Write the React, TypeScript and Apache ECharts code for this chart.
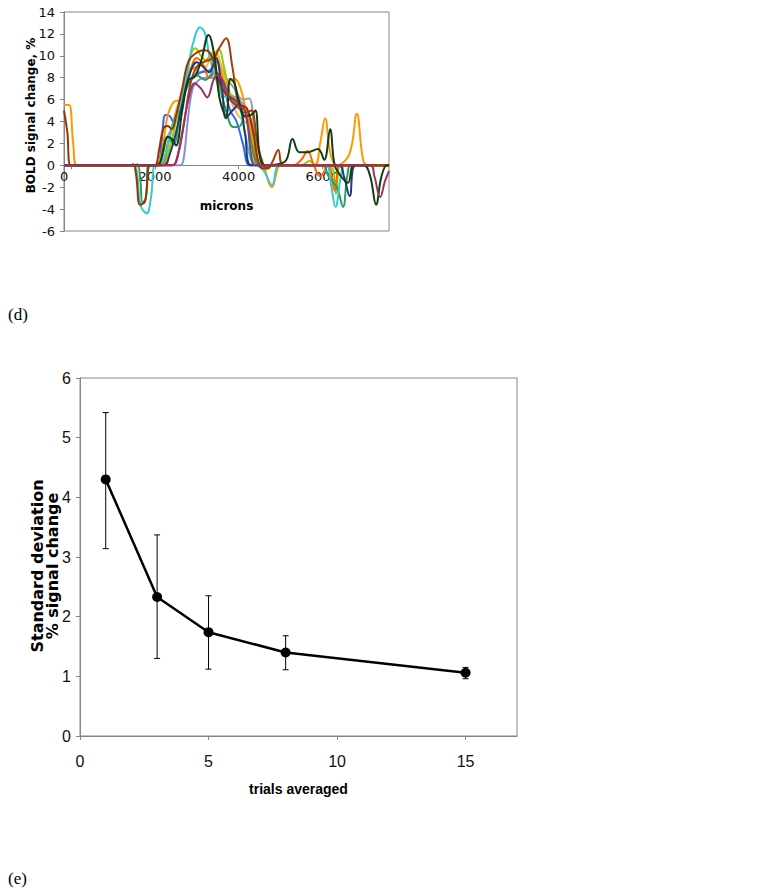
import React, { useEffect, useRef } from "react";
import * as echarts from "echarts";

// ---------- Panel (d): BOLD signal change vs microns ----------
const micronTicks = [0, 2000, 4000, 6000];
const boldMin = -6;
const boldMax = 14;

const orangeCurve = [[-180,5.5],[-60,5.5],[40,2],[130,0],[400,0],[2000,0],[2150,1],[2300,4.5],[2450,5.8],[2600,6],[2800,8.5],[3000,9],[3200,9.5],[3400,10.3],[3550,9],[3700,7.5],[3900,7.9],[4050,7],[4200,4.5],[4400,2],[4600,0],[4800,-2],[5000,0],[5200,0],[5800,0],[5950,2],[6070,4.3],[6200,1],[6350,0],[6650,1],[6830,4.7],[6980,0.5],[7100,0],[7600,0]];
const brownACurve = [[-180,5],[-100,3],[-20,0],[300,0],[1400,0],[1480,0.1],[1550,-1],[1640,-3.6],[1760,-3.3],[1880,0],[2000,0],[2100,1.5],[2200,3.4],[2300,3.6],[2400,3.3],[2500,4.5],[2650,7],[2800,9.5],[3000,10.3],[3200,10.5],[3350,10],[3500,8],[3700,6.5],[3900,6],[4050,5.5],[4200,5.2],[4350,3],[4500,0],[4650,-0.3],[4800,0],[7600,0]];
const brownBCurve = [[-180,0],[2400,0],[2550,1],[2700,4],[2850,7.5],[3000,9],[3200,9.5],[3400,9.8],[3550,10.8],[3700,11.6],[3850,9],[4000,5.5],[4150,4.8],[4300,5],[4450,2],[4600,0],[4700,-0.3],[4820,0.4],[4950,1.4],[5080,0],[7600,0]];
const cyanCurve = [[-180,0],[1450,0],[1550,-0.3],[1650,-3.6],[1800,-4.4],[1900,-3],[2000,0],[2100,0],[2250,1],[2400,3.5],[2600,5.5],[2750,8],[2900,11],[3080,12.6],[3200,12],[3300,10],[3450,8],[3600,6.5],[3800,6],[4000,5.5],[4150,3],[4300,0.5],[4450,0],[4600,-0.5],[4800,-1.8],[4950,0],[5100,0],[6100,0],[6200,-1.5],[6320,-3.8],[6450,-1],[6550,0],[7600,0]];
const darkGreenCurve = [[-180,0],[2000,0],[2100,0.1],[2200,1.5],[2300,2.6],[2400,2.4],[2500,1.8],[2650,5],[2800,7.8],[2950,8.1],[3100,9.5],[3280,11.9],[3420,10],[3550,6],[3700,4.5],[3800,7.9],[3900,7.5],[4000,6],[4150,4.5],[4300,4.6],[4400,5],[4500,1],[4620,0],[5100,0.3],[5290,2.4],[5450,1.2],[5650,1.2],[5900,1.5],[6050,0.5],[6190,3.3],[6300,0],[6450,-1],[6620,-1.6],[6750,0],[7000,0],[7150,-1],[7290,-3.6],[7420,-1],[7550,0],[7600,0]];
const tealGreenCurve = [[-180,0],[1500,0],[1580,0.1],[1650,-1.5],[1700,-3.4],[1780,-3],[1850,0],[2000,0],[2150,0.5],[2300,2.5],[2450,2],[2600,5],[2800,7.5],[3000,8.2],[3200,7.8],[3400,8.5],[3550,7],[3700,5],[3870,3.5],[4000,3.5],[4150,4.5],[4250,3],[4400,0.5],[4500,0],[6000,0],[6150,-1],[6350,-2],[6500,-3.8],[6600,-1],[6700,0],[7600,0]];
const yellowGreenCurve = [[-180,0],[2100,0],[2300,1],[2500,4],[2700,7],[2850,10],[2960,10.7],[3100,10],[3250,9.5],[3400,10],[3520,10.6],[3650,9],[3800,6.5],[4000,5.5],[4200,5],[4350,2],[4450,0],[5500,0],[5700,0.4],[5850,0],[6200,0],[6330,-2.6],[6450,0],[7600,0]];
const blueCurve = [[-180,0],[2050,0],[2150,2],[2250,4.6],[2350,4.5],[2450,3.9],[2550,5],[2700,7],[2900,8],[3100,8.5],[3300,8.6],[3500,8.4],[3650,7],[3800,5],[3950,4],[4100,2],[4250,0],[4350,0],[7600,0]];
const navyCurve = [[-180,0],[2200,0],[2350,1],[2500,3],[2650,5.5],[2800,8],[3000,9.4],[3150,9],[3300,8.5],[3450,9.8],[3600,7],[3700,4.3],[3850,5],[4000,5.5],[4150,3],[4300,0],[6400,0],[6520,-1],[6660,-2.8],[6800,0],[7600,0]];
const magentaCurve = [[-180,0],[2400,0],[2500,0.3],[2650,3],[2800,6],[2950,7.5],[3100,7],[3250,6.2],[3400,7.8],[3500,8.3],[3650,7.5],[3800,6],[3950,5.5],[4150,5],[4300,1],[4400,0],[7150,0],[7250,-1],[7390,-2.9],[7500,-1.5],[7600,-0.5]];
const lavenderCurve = [[-180,0],[2600,0],[2680,0.5],[2780,4],[2900,7],[3050,7.8],[3200,8],[3400,8],[3600,7.5],[3800,6.5],[4000,6],[4200,5],[4350,1],[4450,0],[7600,0]];
const grayCurve = [[-180,0],[2050,0],[2200,2],[2350,3],[2500,4.5],[2700,6.5],[2900,8],[3100,8.5],[3300,8.7],[3500,9.5],[3700,8],[3900,7],[4100,6],[4250,6.1],[4400,2],[4500,0],[7600,0]];
const orangeRedCurve = [[-180,0],[2100,0],[2300,2],[2450,4],[2600,5.5],[2800,8],[3000,9.8],[3150,9.2],[3300,8],[3450,8.5],[3600,7],[3800,6],[4000,5.2],[4200,5],[4350,3],[4500,0],[5300,0],[5500,0.5],[5650,1.3],[5800,0],[5950,-1],[6150,0],[6300,-2.3],[6420,0],[6550,0],[7600,0]];
const goldCurve = [[-180,0],[2150,0],[2350,2.5],[2500,5],[2700,7],[2900,9],[3100,8.5],[3300,9.5],[3450,10.3],[3600,8.8],[3800,6],[4000,4.5],[4150,4],[4300,3.5],[4420,0],[7600,0]];

const curves: { data: number[][]; color: string }[] = [
  { data: grayCurve, color: "#A0A0A0" },
  { data: lavenderCurve, color: "#8C8CD9" },
  { data: goldCurve, color: "#F5B84A" },
  { data: blueCurve, color: "#3366FF" },
  { data: yellowGreenCurve, color: "#99CC00" },
  { data: orangeRedCurve, color: "#FF6600" },
  { data: orangeCurve, color: "#FF9900" },
  { data: tealGreenCurve, color: "#339966" },
  { data: cyanCurve, color: "#33CCCC" },
  { data: navyCurve, color: "#1F3B73" },
  { data: brownACurve, color: "#993300" },
  { data: brownBCurve, color: "#A0400F" },
  { data: darkGreenCurve, color: "#123D12" },
  { data: magentaCurve, color: "#993366" },
];

// ---------- Panel (e): SD vs trials averaged ----------
const trials = [1, 3, 5, 8, 15];
const sdValues = [4.3, 2.33, 1.74, 1.4, 1.06];
const errLow = [3.14, 1.3, 1.12, 1.11, 0.96];
const errHigh = [5.42, 3.37, 2.35, 1.68, 1.15];
const trialTicks = [0, 5, 10, 15];

export default function App() {
  const ref = useRef<HTMLDivElement>(null);
  useEffect(() => {
    if (!ref.current) return;
    const chart = echarts.init(ref.current, null, { renderer: "svg" });
    const axisGray = "#868686";
    const topGridH = 219;
    // lift the micron axis from the grid bottom to the zero line of the signal axis
    const zeroOffset = -((0 - boldMin) / (boldMax - boldMin)) * topGridH;
    const option: any = {
      animation: false,
      backgroundColor: "#fff",
      graphic: [
        { type: "text", left: 8, top: 306, style: { text: "(d)", font: "17px 'Liberation Serif'", fill: "#000" } },
        { type: "text", left: 8, top: 870, style: { text: "(e)", font: "17px 'Liberation Serif'", fill: "#000" } },
      ],
      grid: [
        { left: 64, top: 12, width: 325, height: topGridH, show: true, borderColor: axisGray, borderWidth: 1, containLabel: false },
        { left: 80, top: 378, width: 437, height: 358, show: true, borderColor: axisGray, borderWidth: 1, containLabel: false },
      ],
      xAxis: [
        {
          gridIndex: 0, type: "value", min: -180, max: 7600, position: "bottom", offset: zeroOffset,
          axisLine: { onZero: false, lineStyle: { color: axisGray, width: 1 } },
          axisTick: { show: true, inside: false, length: 4, customValues: micronTicks, lineStyle: { color: axisGray } },
          axisLabel: {
            customValues: micronTicks, margin: 5, color: "#111", fontSize: 13, fontFamily: "DejaVu Sans",
            formatter: (v: number) => (v === 0 ? "{z|0}" : String(v)),
            rich: { z: { padding: [0, 15, 0, 0], fontSize: 13, fontFamily: "DejaVu Sans", color: "#111" } },
          },
          splitLine: { show: false },
          name: "microns", nameLocation: "middle", nameGap: 35, nameMoveOverlap: false,
          nameTextStyle: { fontSize: 12, fontWeight: "bold", fontFamily: "DejaVu Sans", color: "#000" },
        },
        {
          gridIndex: 1, type: "value", min: 0, max: 17,
          axisLine: { onZero: false, lineStyle: { color: axisGray, width: 1 } },
          axisTick: { show: true, inside: false, length: 4, customValues: trialTicks, lineStyle: { color: axisGray } },
          axisLabel: { customValues: trialTicks, margin: 17, color: "#111", fontSize: 16, fontFamily: "Liberation Sans" },
          splitLine: { show: false },
          name: "trials averaged", nameLocation: "middle", nameGap: 46, nameMoveOverlap: false,
          nameTextStyle: { fontSize: 14, fontWeight: "bold", fontFamily: "'Liberation Sans Narrow', 'Liberation Sans'", color: "#000" },
        },
      ],
      yAxis: [
        {
          gridIndex: 0, type: "value", min: boldMin, max: boldMax, interval: 2,
          axisLine: { show: true, onZero: false, lineStyle: { color: axisGray, width: 1 } },
          axisTick: { show: true, inside: false, length: 4, lineStyle: { color: axisGray } },
          axisLabel: { margin: 9, color: "#111", fontSize: 13, fontFamily: "DejaVu Sans" },
          splitLine: { show: false },
          name: "BOLD signal change, %", nameLocation: "middle", nameGap: 27, nameRotate: 90, nameMoveOverlap: false,
          nameTextStyle: { fontSize: 12, fontWeight: "bold", fontFamily: "DejaVu Sans", color: "#000", padding: [0, 0, 0, 12] },
        },
        {
          gridIndex: 1, type: "value", min: 0, max: 6, interval: 1,
          axisLine: { show: true, onZero: false, lineStyle: { color: axisGray, width: 1 } },
          axisTick: { show: true, inside: false, length: 4, lineStyle: { color: axisGray } },
          axisLabel: { margin: 9, color: "#111", fontSize: 16, fontFamily: "Liberation Sans" },
          splitLine: { show: false },
          name: "Standard deviation\n% signal change", nameLocation: "middle", nameGap: 20, nameRotate: 90, nameMoveOverlap: false,
          nameTextStyle: { fontSize: 16, fontWeight: "bold", fontFamily: "DejaVu Sans", color: "#000", lineHeight: 15, padding: [0, 18, 0, 0] },
        },
      ],
      series: [
        ...curves.map((c) => ({
          type: "line", xAxisIndex: 0, yAxisIndex: 0, data: c.data, smooth: 0.4,
          showSymbol: false, symbol: "none", lineStyle: { color: c.color, width: 2 }, itemStyle: { color: c.color },
          clip: true,
        })),
        {
          type: "custom", xAxisIndex: 1, yAxisIndex: 1, z: 1,
          data: trials.map((t, i) => [t, errLow[i], errHigh[i]]),
          renderItem: (params: any, api: any) => {
            const x = api.value(0);
            const top = api.coord([x, api.value(2)]);
            const bot = api.coord([x, api.value(1)]);
            const cap = 3;
            const st = { stroke: "#000", lineWidth: 1 };
            return {
              type: "group",
              children: [
                { type: "line", shape: { x1: top[0], y1: top[1], x2: bot[0], y2: bot[1] }, style: st },
                { type: "line", shape: { x1: top[0] - cap, y1: top[1], x2: top[0] + cap, y2: top[1] }, style: st },
                { type: "line", shape: { x1: bot[0] - cap, y1: bot[1], x2: bot[0] + cap, y2: bot[1] }, style: st },
              ],
            };
          },
        },
        {
          type: "line", xAxisIndex: 1, yAxisIndex: 1, z: 3,
          data: trials.map((t, i) => [t, sdValues[i]]),
          symbol: "circle", symbolSize: 10, showSymbol: true,
          lineStyle: { color: "#000", width: 2.5 }, itemStyle: { color: "#000" },
        },
      ],
    };
    chart.setOption(option);
    return () => chart.dispose();
  }, []);
  return <div ref={ref} style={{ position: "absolute", left: 0, top: 0, width: 762, height: 896 }} />;
}
